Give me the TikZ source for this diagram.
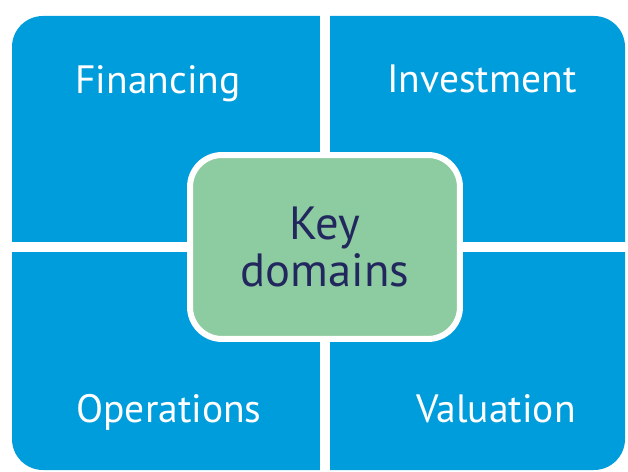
\documentclass[tikz,border=0pt]{standalone}
\usepackage{fontspec}
\setmainfont{PT Sans}
\definecolor{quadblue}{RGB}{0,157,220}
\definecolor{keygreen}{RGB}{141,203,160}
\definecolor{keynavy}{RGB}{34,40,94}

\begin{document}
\begin{tikzpicture}[x=0.02cm, y=-0.02cm,
        areatext/.style={text=white, anchor=base, font=\fontsize{22.5}{26}\selectfont},
        keybox/.style={draw=white, line width=0.12cm, fill=keygreen, rounded corners=0.64cm,
            minimum width=5.4cm, minimum height=3.68cm, align=center, text=keynavy,
            font=\fontsize{26.5}{27}\selectfont}]
        \useasboundingbox (0,0) rectangle (628,472);
        % blue quadrants with white gaps
        \fill[quadblue, rounded corners=0.62cm] (12,16) rectangle (625,470);
        \fill[white] (320,0) rectangle (330,472);
        \fill[white] (0,242) rectangle (628,252);
        % centre box
        \node[keybox] (key) at (325,247) {Key\\domains};
        % quadrant labels
        \node[areatext] (financing) at (158,94) {Financing};
        \node[areatext] (investment) at (482,93) {Investment};
        \node[areatext] (operations) at (169,422) {Operations};
        \node[areatext] (valuation) at (496,422) {Valuation};
    \end{tikzpicture}
\end{document}
